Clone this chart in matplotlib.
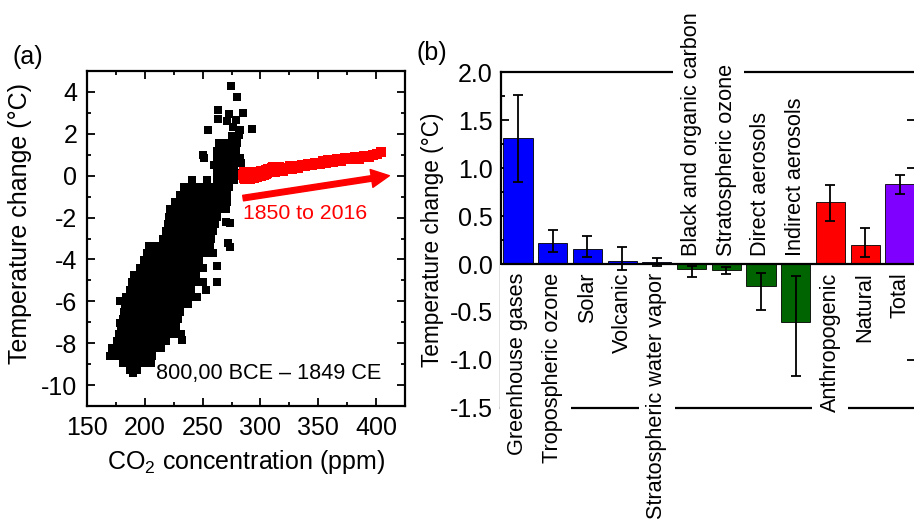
import matplotlib.pyplot as plt
from matplotlib.ticker import MultipleLocator, FormatStrFormatter

plt.rcParams['font.family'] = ['Liberation Sans', 'DejaVu Sans']
plt.rcParams['mathtext.fontset'] = 'custom'
plt.rcParams['mathtext.rm'] = 'Liberation Sans'
plt.rcParams['mathtext.it'] = 'Liberation Sans:italic'
plt.rcParams['axes.unicode_minus'] = False

# ice core record: (temperature, [co2 readings at that temperature])
cloud_rows = [
    (1.55, [264, 270, 275, 280]),
    (1.20, [262, 268, 273, 279]),
    (0.85, [262, 267, 272, 278, 282]),
    (0.50, [260, 266, 271, 277]),
    (0.15, [262, 267, 273, 279]),
    (-0.20, [262, 267, 272, 277]),
    (-0.55, [234, 240, 246, 251, 257, 263, 268, 273]),
    (-0.90, [230, 236, 242, 248, 253, 259, 265, 271]),
    (-1.25, [226, 232, 237, 243, 249, 255, 261, 266, 271]),
    (-1.60, [222, 228, 234, 240, 246, 252, 258, 264, 270]),
    (-1.95, [221, 226, 232, 238, 244, 250, 256, 262]),
    (-2.30, [220, 226, 231, 237, 243, 249, 255, 261]),
    (-2.65, [218, 224, 230, 236, 242, 248, 254, 259]),
    (-3.00, [216, 222, 228, 234, 239, 245, 251, 257]),
    (-3.35, [204, 210, 216, 222, 228, 233, 239, 245, 251, 256]),
    (-3.70, [202, 208, 213, 219, 225, 231, 237, 243, 249, 255, 259]),
    (-4.05, [199, 205, 211, 217, 223, 229, 235, 241, 247]),
    (-4.40, [196, 202, 208, 214, 220, 226, 232, 238, 244, 250]),
    (-4.75, [191, 197, 203, 209, 214, 220, 226, 232, 238, 244]),
    (-5.10, [189, 195, 201, 207, 213, 219, 225, 231, 237, 243, 250, 262]),
    (-5.45, [187, 193, 199, 205, 210, 216, 222, 228, 234, 240, 253]),
    (-5.80, [184, 190, 196, 202, 208, 214, 220, 226, 232, 238, 245]),
    (-6.15, [183, 189, 195, 201, 207, 213, 219, 225, 231, 237]),
    (-6.50, [182, 188, 194, 200, 206, 212, 218, 224, 230]),
    (-6.85, [181, 187, 193, 199, 205, 211, 217, 223, 229]),
    (-7.20, [179, 185, 191, 197, 203, 209, 215, 221, 227]),
    (-7.55, [178, 184, 190, 196, 202, 208, 214, 220, 226, 231]),
    (-7.90, [176, 182, 188, 194, 200, 206, 212, 218]),
    (-8.25, [172, 178, 184, 190, 196, 202, 208, 214]),
    (-8.60, [170, 176, 182, 188, 194, 200, 206]),
    (-8.95, [181, 187, 193, 199, 205]),
    (-9.30, [187, 193]),
]

# scattered points outside the main band
stray_co2 = [274.6, 279.5, 263.0, 273.0, 285.0, 263.6, 270.8, 278.9, 276.0, 255.0,
             282.4, 292.5, 275.0, 281.7, 250.0, 251.2, 283.0, 240.6, 253.5, 270.0,
             274.0, 272.3, 274.0, 262.0, 190.0, 178.5, 178.5, 232.0]
stray_temp = [4.27, 3.76, 3.12, 2.95, 3.00, 2.71, 2.60, 2.67, 2.35, 2.20,
              2.20, 2.24, 1.88, 1.96, 1.00, 0.84, 0.63, -0.20, -0.20, -2.20,
              -2.25, -3.20, -3.40, -4.30, -9.40, -7.05, -6.00, -7.85]

# instrumental record 1850-2016
modern_co2 = [285.2, 285.4, 285.7, 286.0, 286.2, 286.5, 286.8, 287.0, 287.3, 287.6,
              287.8, 288.3, 288.8, 289.4, 290.0, 290.7, 291.3, 292.0, 292.6, 293.3,
              294.0, 294.4, 294.8, 295.2, 295.6, 296.0, 296.7, 297.4, 298.1, 298.8,
              299.5, 300.2, 300.9, 301.6, 302.3, 303.0, 303.7, 304.4, 305.1, 305.8,
              306.5, 307.3, 308.1, 308.9, 309.7, 310.5, 310.7, 310.9, 311.1, 311.3,
              311.5, 312.6, 313.7, 314.8, 315.9, 317.0, 318.2, 319.6, 321.2, 323.0,
              325.5, 327.5, 330.0, 332.5, 335.6, 338.8, 341.3, 344.5, 347.3, 351.5,
              354.2, 356.4, 358.8, 362.6, 366.6, 369.5, 373.1, 377.5, 381.9, 385.6,
              389.9, 393.8, 397.1, 400.8, 404.2]
modern_temp = [0.05, -0.12, 0.10, -0.05, 0.18, -0.15, 0.02, 0.15, -0.10, 0.08,
               -0.18, 0.12, -0.02, 0.20, -0.08, 0.06, -0.14, 0.14, -0.04, 0.10,
               -0.12, 0.04, 0.18, -0.06, 0.12, 0.00, 0.16, -0.04, 0.20, 0.02,
               0.14, -0.02, 0.22, 0.06, 0.18, 0.04, 0.24, 0.10, 0.28, 0.14,
               0.30, 0.16, 0.34, 0.20, 0.36, 0.22, 0.40, 0.26, 0.38, 0.18,
               0.32, 0.20, 0.36, 0.24, 0.40, 0.26, 0.38, 0.24, 0.38, 0.30,
               0.44, 0.34, 0.48, 0.38, 0.52, 0.44, 0.58, 0.50, 0.63, 0.56,
               0.70, 0.60, 0.74, 0.66, 0.80, 0.72, 0.86, 0.78, 0.90, 0.82,
               0.94, 0.88, 1.00, 1.05, 1.12]

forcings = ['Greenhouse gases', 'Tropospheric ozone', 'Solar', 'Volcanic',
            'Stratospheric water vapor', 'Black and organic carbon',
            'Stratospheric ozone', 'Direct aerosols', 'Indirect aerosols',
            'Anthropogenic', 'Natural', 'Total']
forcing_temp = [1.31, 0.22, 0.16, 0.035, 0.025, -0.055, -0.065, -0.23, -0.60, 0.645, 0.20, 0.83]
forcing_low = [0.854, 0.12, 0.073, -0.066, -0.018, -0.14, -0.107, -0.48, -1.17, 0.45, 0.073, 0.73]
forcing_high = [1.76, 0.354, 0.29, 0.18, 0.066, -0.018, -0.035, -0.097, -0.125, 0.82, 0.37, 0.93]
bar_colors = ['#0000ff'] * 5 + ['#006400'] * 4 + ['#ff0000'] * 2 + ['#8000ff']

cloud_co2 = [c for t, row in cloud_rows for c in row] + stray_co2
cloud_temp = [t for t, row in cloud_rows for c in row] + stray_temp

fig = plt.figure(figsize=(9.14, 5.23), dpi=100)

# ---- (a) temperature vs CO2 ----
ax1 = fig.add_axes([0.0952, 0.2237, 0.3479, 0.6405])
ax1.scatter(cloud_co2, cloud_temp, marker='s', s=29, color='black', linewidths=0)
ax1.scatter(modern_co2, modern_temp, marker='s', s=44, color='red', linewidths=0)
ax1.annotate('', xy=(411.5, 0.0), xytext=(285, -1.07),
             arrowprops=dict(arrowstyle='simple,head_length=0.65,head_width=0.65,tail_width=0.2',
                             color='red', mutation_scale=20, shrinkA=0, shrinkB=0))
ax1.text(285, -1.82, '1850 to 2016', color='red', fontsize=15.3, va='center', ha='left')
ax1.text(209.7, -9.45, '800,00 BCE \u2013 1849 CE', color='black', fontsize=15.6,
         va='center', ha='left')

ax1.set_xlim(150, 425)
ax1.set_ylim(-11, 5)
ax1.xaxis.set_major_locator(MultipleLocator(50))
ax1.xaxis.set_minor_locator(MultipleLocator(25))
ax1.yaxis.set_major_locator(MultipleLocator(2))
ax1.yaxis.set_minor_locator(MultipleLocator(1))
ax1.tick_params(which='both', direction='in', top=True, right=True, width=1.3, labelsize=18)
ax1.tick_params(which='major', length=6, pad=7)
ax1.tick_params(which='minor', length=3)
for s in ax1.spines.values():
    s.set_linewidth(1.6)
ax1.set_xlabel(r'CO$_\mathrm{2}$ concentration (ppm)', fontsize=18, labelpad=6)
ax1.set_ylabel('Temperature change (\u00b0C)', fontsize=18)
ax1.yaxis.set_label_coords(-0.173, 0.545)

# ---- (b) contributions to warming ----
ax2 = fig.add_axes([0.5481, 0.2199, 0.4535, 0.6424])
xpos = list(range(1, len(forcings) + 1))
ax2.bar(xpos, forcing_temp, width=0.84, color=bar_colors, edgecolor='black',
        linewidth=0.6, zorder=2)
yerr = [[v - lo for v, lo in zip(forcing_temp, forcing_low)],
        [hi - v for v, hi in zip(forcing_temp, forcing_high)]]
ax2.errorbar(xpos, forcing_temp, yerr=yerr, fmt='none', ecolor='black',
             elinewidth=1.3, capsize=3.5, capthick=1.3, zorder=6)
ax2.axhline(0, color='black', lw=1.6, zorder=5)

for x, name, v in zip(xpos, forcings, forcing_temp):
    if v >= 0:
        off, va = -6, 'top'
    else:
        off, va = 6, 'bottom'
    ax2.annotate(name, (x, 0), xytext=(0, off), textcoords='offset points',
                 rotation=90, ha='center', va=va, fontsize=15.6, zorder=4,
                 annotation_clip=False,
                 bbox=dict(boxstyle='square,pad=0.35', fc='white', ec='none'))

ax2.set_xlim(0.51, 12.45)
ax2.set_ylim(-1.5, 2.0)
ax2.set_xticks([])
ax2.yaxis.set_major_locator(MultipleLocator(0.5))
ax2.yaxis.set_minor_locator(MultipleLocator(0.25))
ax2.yaxis.set_major_formatter(FormatStrFormatter('%.1f'))
ax2.tick_params(axis='y', which='both', direction='in', right=True, width=1.3, labelsize=18)
ax2.tick_params(axis='y', which='major', length=6, pad=6)
ax2.tick_params(axis='y', which='minor', length=3, right=False)
for s in ax2.spines.values():
    s.set_linewidth(1.6)
ax2.set_ylabel('Temperature change (\u00b0C)', fontsize=16.3)
ax2.yaxis.set_label_coords(-0.138, 0.5)

fig.text(28 / 914, 1 - 57 / 523, '(a)', fontsize=18, ha='center', va='center')
fig.text(432 / 914, 1 - 53 / 523, '(b)', fontsize=18, ha='center', va='center')

fig.savefig('out.png', dpi=100)
